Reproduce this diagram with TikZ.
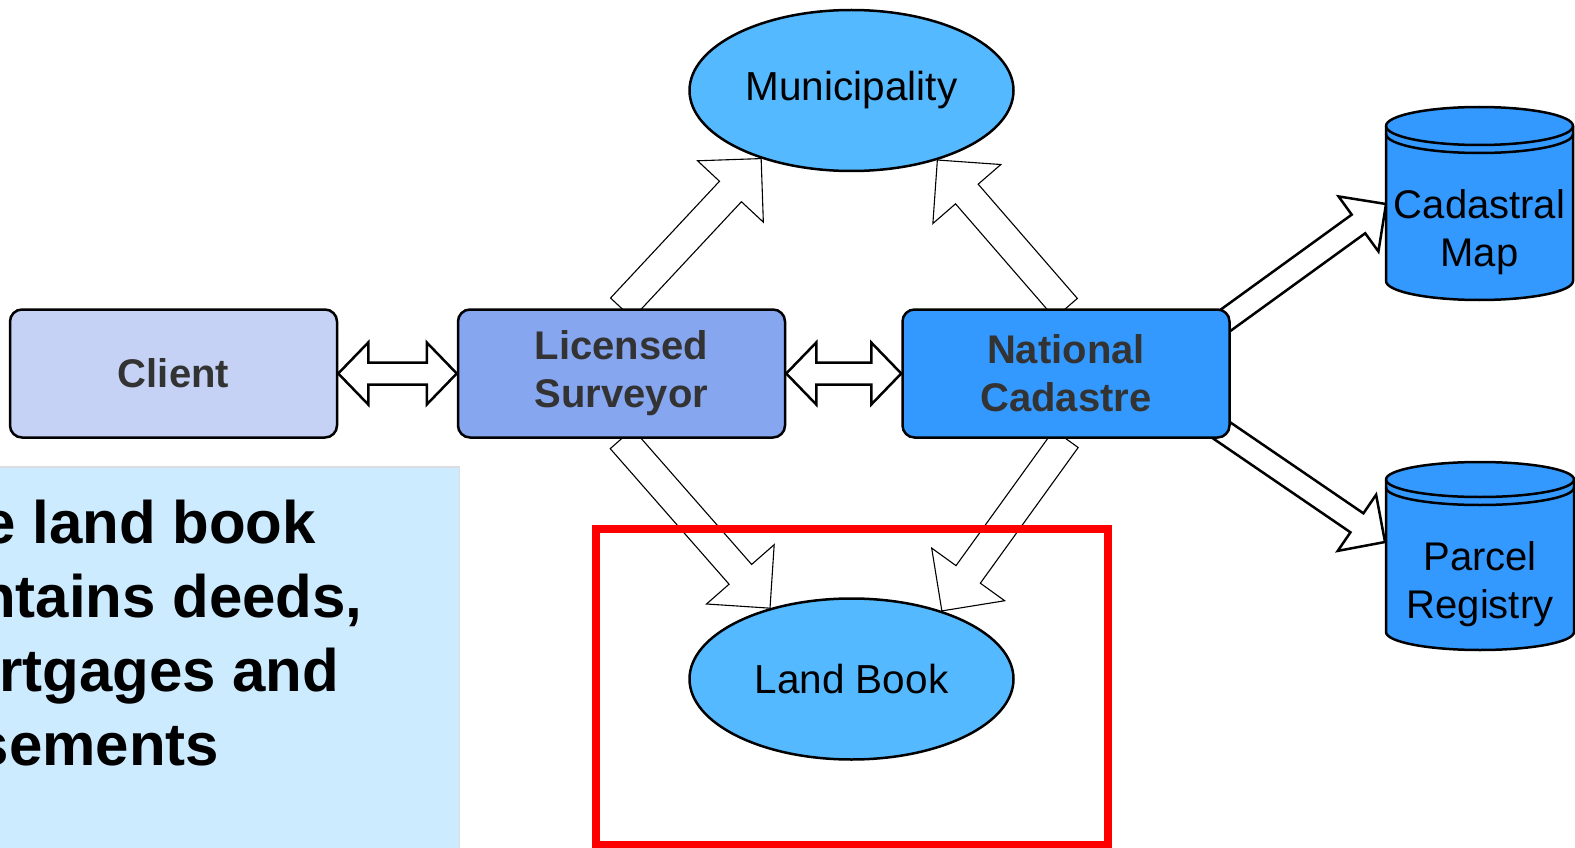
\documentclass[tikz,border=0pt]{standalone}
\usepackage{fontspec}
\setmainfont{Liberation Sans}
\usetikzlibrary{calc,shapes.geometric}
\pgfdeclarelayer{background}
\pgfsetlayers{background,main}
\definecolor{clientfill}{RGB}{197,210,245}
\definecolor{survfill}{RGB}{135,166,240}
\definecolor{cadfill}{RGB}{51,153,255}
\definecolor{ellfill}{RGB}{85,185,255}
\definecolor{notefill}{RGB}{204,235,255}
\definecolor{noteedge}{RGB}{218,222,226}
\definecolor{labelgray}{RGB}{51,51,51}
\definecolor{framered}{RGB}{255,0,0}
% style, start, tip, half shaft, half head, head length
\newcommand{\blockarr}[6]{%
  \draw[#1] ($(#2)!#4!90:(#3)$) -- ($(#3)!#6!(#2)!#4!90:(#3)$) -- ($(#3)!#6!(#2)!#5!90:(#3)$) -- (#3)
    -- ($(#3)!#6!(#2)!#5!-90:(#3)$) -- ($(#3)!#6!(#2)!#4!-90:(#3)$) -- ($(#2)!#4!-90:(#3)$) -- cycle;}
\newcommand{\dblarr}[6]{%
  \draw[#1] (#2) -- ($(#2)!#6!(#3)!#5!90:(#3)$) -- ($(#2)!#6!(#3)!#4!90:(#3)$) -- ($(#3)!#6!(#2)!#4!90:(#3)$)
    -- ($(#3)!#6!(#2)!#5!90:(#3)$) -- (#3) -- ($(#3)!#6!(#2)!#5!-90:(#3)$) -- ($(#3)!#6!(#2)!#4!-90:(#3)$)
    -- ($(#2)!#6!(#3)!#4!-90:(#3)$) -- ($(#2)!#6!(#3)!#5!-90:(#3)$) -- cycle;}
\tikzset{
  box/.style={draw=black, line width=2.5pt, rounded corners=12pt, minimum width=327pt, minimum height=128pt,
    inner sep=0pt, align=center, text=labelgray, font=\bfseries\fontsize{40}{48}\selectfont},
  ellip/.style={ellipse, draw=black, line width=2.5pt, fill=ellfill, minimum width=324pt, minimum height=161pt,
    inner sep=0pt, font=\fontsize{40.5}{48}\selectfont},
  cyl/.style={draw=black, line width=2.5pt, fill=cadfill},
  cyledge/.style={draw=black, line width=2.5pt},
  cyltext/.style={inner sep=0pt, align=center, font=\fontsize{40}{48}\selectfont},
  thinarrow/.style={draw=black, line width=1.1pt, fill=white},
  thickarrow/.style={draw=black, line width=2.5pt, fill=white},
  notetext/.style={inner sep=0pt, align=left, font=\bfseries\fontsize{60}{74}\selectfont},
}
\begin{document}
\begin{tikzpicture}[x=1pt, y=-1pt]
\useasboundingbox (0,0) rectangle (1575,848);
% note box
\fill[notefill] (-10,467) rectangle (459.5,860);
\draw[noteedge, line width=1.5pt] (-10,467) -- (459.5,467) -- (459.5,860);
\begin{scope}
  \clip (0,467) rectangle (459,848);
  \node[notetext, anchor=north west] (note) at (-91,500) {The land book\\contains deeds,\\mortgages and\\easements};
\end{scope}
% boxes
\node[box, fill=clientfill] (client) at (173.5,373.5) {Client};
\node[box, fill=survfill] (surv) at (621.5,373.5) {Licensed\\Surveyor};
\node[box, fill=cadfill] (cad) at (1066,373.5) {National\\Cadastre};
% ellipses
\node[ellip] (muni) at (851.5,90.5) {Municipality};
\node[ellip] (land) at (851.5,679) {Land Book};
% cylinders
\filldraw[cyl] (1386,126) -- (1386,281) arc[start angle=180, end angle=0, x radius=93.5, y radius=19]
  -- (1573,126) arc[start angle=0, end angle=-180, x radius=93.5, y radius=19] -- cycle;
\draw[cyledge] (1386,126) arc[start angle=180, end angle=0, x radius=93.5, y radius=19];
\draw[cyledge] (1386,134) arc[start angle=180, end angle=0, x radius=93.5, y radius=19];
\node[cyltext] (cmap) at (1479.5,231.7) {Cadastral\\Map};
\filldraw[cyl] (1386,479.5) -- (1386,632) arc[start angle=180, end angle=0, x radius=94, y radius=18]
  -- (1574,479.5) arc[start angle=0, end angle=-180, x radius=94, y radius=17.5] -- cycle;
\draw[cyledge] (1386,479.5) arc[start angle=180, end angle=0, x radius=94, y radius=17.5];
\draw[cyledge] (1386,487.5) arc[start angle=180, end angle=0, x radius=94, y radius=17.5];
\node[cyltext] (preg) at (1480,583.7) {Parcel\\Registry};
% arrow end points
\coordinate (cadNE) at (1208,333);
\coordinate (cmapIn) at (1386,204);
\coordinate (cadSE) at (1205,419);
\coordinate (pregIn) at (1385,542);
\begin{pgfonlayer}{background}
  \dblarr{thickarrow}{client.east}{surv.west}{11pt}{31pt}{30pt}
  \dblarr{thickarrow}{surv.east}{cad.west}{11pt}{31pt}{30pt}
  \blockarr{thinarrow}{surv.north}{muni.217}{15pt}{45pt}{45pt}
  \blockarr{thinarrow}{cad.north}{muni.-39}{15pt}{45pt}{45pt}
  \blockarr{thinarrow}{surv.south}{land.139}{15pt}{45pt}{45pt}
  \blockarr{thinarrow}{cad.south}{land.37}{15pt}{45pt}{45pt}
  \blockarr{thickarrow}{cadNE}{cmapIn}{11.5pt}{34pt}{34pt}
  \blockarr{thickarrow}{cadSE}{pregIn}{11.5pt}{34pt}{34pt}
\end{pgfonlayer}
% red frame
\draw[framered, line width=7.5pt] (596,529) rectangle (1108,845);
\end{tikzpicture}
\end{document}
